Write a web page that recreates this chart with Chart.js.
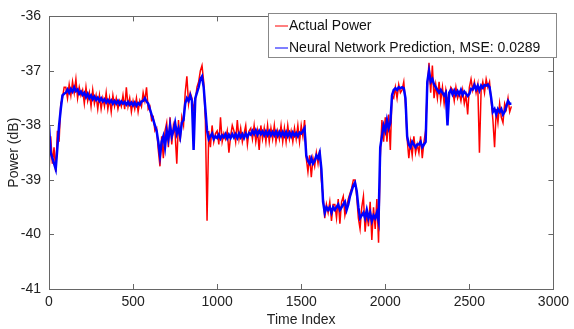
<!DOCTYPE html>
<html>
<head>
<meta charset="utf-8">
<script src="https://cdn.jsdelivr.net/npm/chart.js@4.4.1/dist/chart.umd.min.js"></script>
<style>
  html, body { margin: 0; padding: 0; background: #fff; }
  #wrap { width: 574px; height: 329px; position: relative; }
</style>
</head>
<body>
<div id="wrap"><canvas id="powerChart" width="574" height="329"></canvas></div>
<script>
// samples, one every 10 time indices (0 .. 2750)
const SAMPLE_STEP = 10;

const actualPower = [
  -38.9, -38.2, -38.7, -38.4, -38.85, -38.1, -38.3, -37.6, -37.5, -37.3,
  -37.3, -37.5, -37.25, -37.45, -37.2, -37.4, -37.15, -37.5, -37.3, -37.45,
  -37.35, -37.6, -37.3, -37.55, -37.4, -37.65, -37.35, -37.6, -37.45, -37.7,
  -37.45, -37.7, -37.5, -37.65, -37.4, -37.7, -37.5, -37.75, -37.45, -37.65,
  -37.5, -37.7, -37.55, -37.65, -37.45, -37.7, -37.3, -37.65, -37.5, -37.75,
  -37.55, -37.7, -37.5, -37.75, -37.55, -37.65, -37.4, -37.55, -37.3, -37.7,
  -37.65, -37.9, -37.85, -38.1, -38.05, -38.45, -38.75, -38.2, -38.6, -38.1,
  -37.95, -38.4, -37.85, -38.35, -38.0, -38.15, -38.7, -37.9, -38.3, -37.85,
  -38.0, -37.4, -37.1, -37.6, -37.4, -37.5, -37.7, -37.55, -37.3, -37.2,
  -37.0, -36.9, -37.2, -37.9, -39.75, -38.1, -38.4, -38.0, -38.3, -38.15,
  -38.1, -38.35, -37.85, -38.3, -38.15, -38.25, -38.1, -38.5, -38.2, -38.0,
  -38.1, -38.3, -37.9, -38.25, -38.05, -38.3, -38.15, -38.0, -38.35, -38.1,
  -38.05, -38.25, -38.0, -38.3, -38.1, -38.45, -38.0, -38.25, -38.05, -38.3,
  -38.0, -38.3, -38.05, -38.25, -38.0, -38.3, -38.1, -38.25, -38.0, -38.3,
  -38.05, -38.3, -38.0, -38.25, -38.1, -38.3, -38.05, -38.25, -38.0, -38.3,
  -38.0, -38.2, -37.9, -38.6, -38.85, -38.55, -38.95, -38.6, -38.75, -38.5,
  -38.7, -38.45, -39.0, -39.3, -39.7, -39.45, -39.6, -39.4, -39.75, -39.45,
  -39.45, -39.7, -39.35, -39.8, -39.4, -39.3, -39.65, -39.5, -39.35, -39.25,
  -39.15, -39.0, -39.0, -39.3, -39.7, -39.9, -39.5, -39.3, -39.95, -39.6,
  -39.85, -39.4, -40.1, -39.5, -39.9, -39.35, -40.15, -38.6, -37.9, -38.3,
  -37.85, -38.3, -37.8, -38.45, -37.45, -37.5, -37.3, -37.5, -37.25, -37.4,
  -37.35, -37.2, -37.6, -38.25, -38.6, -38.3, -38.55, -38.2, -38.5, -38.35,
  -38.5, -38.2, -38.6, -38.3, -38.1, -37.3, -36.85, -37.4, -36.9, -37.5,
  -37.25, -37.5, -37.2, -37.55, -37.3, -37.6, -37.35, -37.55, -37.45, -37.3,
  -37.35, -37.55, -37.3, -37.5, -37.4, -37.55, -37.35, -37.6, -37.45, -37.8,
  -37.3, -37.15, -37.35, -37.2, -37.4, -37.25, -38.5, -37.35, -37.2, -37.4,
  -37.15, -37.3, -37.2, -37.55, -37.9, -38.4, -37.7, -37.95, -37.6, -37.85,
  -37.95, -37.6, -37.7, -37.5, -37.75, -37.65
];

const predictedPower = [
  -38.0, -38.5, -38.6, -38.7, -38.8, -38.4, -38.0, -37.7, -37.45, -37.42,
  -37.4, -37.34, -37.4, -37.33, -37.38, -37.3, -37.37, -37.34, -37.42, -37.38,
  -37.44, -37.4, -37.48, -37.42, -37.5, -37.45, -37.52, -37.47, -37.53, -37.49,
  -37.55, -37.5, -37.56, -37.52, -37.58, -37.53, -37.58, -37.54, -37.6, -37.55,
  -37.6, -37.55, -37.61, -37.56, -37.6, -37.57, -37.62, -37.57, -37.62, -37.58,
  -37.63, -37.58, -37.64, -37.59, -37.62, -37.56, -37.55, -37.5, -37.56, -37.6,
  -37.7, -37.8, -37.9, -38.0, -38.1, -38.3, -38.55, -38.3, -38.2, -38.4,
  -38.1, -38.25, -38.0, -38.2, -38.1, -37.95, -38.15, -38.05, -38.2, -37.95,
  -37.9, -37.6, -37.5, -37.55, -37.45, -37.55, -38.45, -37.5, -37.4, -37.3,
  -37.15, -37.1, -37.3, -37.7, -38.1, -38.25, -38.2, -38.15, -38.25, -38.2,
  -38.23, -38.17, -38.24, -38.18, -38.22, -38.16, -38.24, -38.17, -38.23, -38.16,
  -38.22, -38.16, -38.23, -38.15, -38.22, -38.16, -38.23, -38.15, -38.21, -38.14,
  -38.17, -38.1, -38.16, -38.09, -38.17, -38.1, -38.16, -38.11, -38.18, -38.11,
  -38.18, -38.11, -38.18, -38.12, -38.18, -38.11, -38.19, -38.12, -38.19, -38.12,
  -38.19, -38.12, -38.2, -38.13, -38.2, -38.13, -38.19, -38.14, -38.2, -38.13,
  -38.15, -38.1, -38.05, -38.55, -38.65, -38.7, -38.6, -38.7, -38.65, -38.55,
  -38.6, -38.5, -38.8, -39.4, -39.6, -39.5, -39.55, -39.5, -39.6, -39.5,
  -39.55, -39.5, -39.45, -39.55, -39.5, -39.45, -39.4, -39.55, -39.45, -39.3,
  -39.2, -39.1, -39.05, -39.2, -39.5, -39.7, -39.65, -39.6, -39.7, -39.55,
  -39.7, -39.6, -39.75, -39.65, -39.7, -39.6, -39.75, -38.4, -38.2, -38.0,
  -38.1, -37.9, -38.05, -37.95, -37.45, -37.35, -37.32, -37.35, -37.3, -37.32,
  -37.3, -37.32, -37.5, -38.2, -38.35, -38.4, -38.3, -38.35, -38.4, -38.35,
  -38.35, -38.3, -38.4, -38.35, -38.3, -37.2, -37.0, -37.2, -37.15, -37.25,
  -37.3, -37.35, -37.4, -37.35, -37.4, -37.45, -37.4, -38.0, -37.4, -37.35,
  -37.43, -37.36, -37.44, -37.37, -37.43, -37.35, -37.44, -37.38, -37.42, -37.46,
  -37.42, -37.33, -37.34, -37.26, -37.34, -37.27, -37.36, -37.27, -37.31, -37.26,
  -37.27, -37.25, -37.3, -37.5, -37.75, -37.7, -37.8, -37.7, -37.75, -37.7,
  -37.8, -37.75, -37.65, -37.55, -37.6, -37.6
];

const seriesLabels = ['Actual Power', 'Neural Network Prediction, MSE: 0.0289'];
const seriesColors = ['#ff0000', '#0000ff'];
const xTicks = [0, 500, 1000, 1500, 2000, 2500, 3000];
const yTicks = [-41, -40, -39, -38, -37, -36];

const FONT = '"Liberation Sans", Arial, Helvetica, sans-serif';

const toPoints = vals => vals.map((v, i) => ({ x: i * SAMPLE_STEP, y: v }));

// matlab-ish frame: box all round, ticks pointing inwards, legend inside
const matlabFrame = {
  id: 'matlabFrame',
  afterDraw(chart) {
    const { ctx, chartArea: a, scales } = chart;
    const len = 5;
    ctx.save();
    ctx.strokeStyle = '#666';
    ctx.lineWidth = 1;
    ctx.beginPath();
    xTicks.forEach(t => {
      const px = Math.round(scales.x.getPixelForValue(t)) + 0.5;
      ctx.moveTo(px, a.bottom); ctx.lineTo(px, a.bottom - len);
      ctx.moveTo(px, a.top); ctx.lineTo(px, a.top + len);
    });
    yTicks.forEach(t => {
      const py = Math.round(scales.y.getPixelForValue(t)) + 0.5;
      ctx.moveTo(a.left, py); ctx.lineTo(a.left + len, py);
      ctx.moveTo(a.right, py); ctx.lineTo(a.right - len, py);
    });
    ctx.stroke();
    ctx.strokeRect(Math.round(a.left) + 0.5, Math.round(a.top) + 0.5,
                   Math.round(a.right - a.left), Math.round(a.bottom - a.top));

    // legend box
    const bx = 268.5, by = 13.5, bw = 288, bh = 44;
    ctx.fillStyle = '#fff';
    ctx.fillRect(bx, by, bw, bh);
    ctx.strokeStyle = '#888';
    ctx.strokeRect(bx, by, bw, bh);
    ctx.font = '14px ' + FONT;
    ctx.textBaseline = 'middle';
    seriesLabels.forEach((lab, i) => {
      const y = 26 + i * 22;
      ctx.strokeStyle = seriesColors[i];
      ctx.beginPath();
      ctx.moveTo(275, y); ctx.lineTo(288, y);
      ctx.stroke();
      ctx.fillStyle = '#111';
      ctx.fillText(lab, 289, y);
    });
    ctx.restore();
  }
};

new Chart(document.getElementById('powerChart'), {
  type: 'line',
  data: {
    datasets: [
      {
        label: seriesLabels[0],
        data: toPoints(actualPower),
        borderColor: seriesColors[0],
        borderWidth: 1.5,
        pointRadius: 0,
        tension: 0,
        order: 2
      },
      {
        label: seriesLabels[1],
        data: toPoints(predictedPower),
        borderColor: seriesColors[1],
        borderWidth: 2.5,
        pointRadius: 0,
        tension: 0,
        order: 1
      }
    ]
  },
  options: {
    responsive: false,
    animation: false,
    layout: { padding: { left: 0, right: 17, top: 11, bottom: 0 } },
    plugins: {
      legend: { display: false },
      tooltip: { enabled: false }
    },
    scales: {
      x: {
        type: 'linear',
        min: 0,
        max: 3000,
        afterBuildTicks: s => { s.ticks = xTicks.map(v => ({ value: v })); },
        afterFit: s => { s.height = 40; },
        grid: { display: false, drawTicks: false },
        border: { display: false },
        ticks: { color: '#222', font: { family: FONT, size: 14 }, padding: 5, maxRotation: 0,
                 callback: v => String(v) },
        title: { display: true, text: 'Time Index', color: '#222', font: { family: FONT, size: 14 }, padding: 0 }
      },
      y: {
        type: 'linear',
        min: -41,
        max: -36,
        afterBuildTicks: s => { s.ticks = yTicks.map(v => ({ value: v })); },
        afterFit: s => { s.width = 49; },
        grid: { display: false, drawTicks: false },
        border: { display: false },
        ticks: { color: '#222', font: { family: FONT, size: 14 }, padding: 8,
                 callback: v => String(v) },
        title: { display: true, text: 'Power (dB)', color: '#222', font: { family: FONT, size: 14 }, padding: { top: 6, bottom: 0 } }
      }
    }
  },
  plugins: [matlabFrame]
});
</script>
</body>
</html>
